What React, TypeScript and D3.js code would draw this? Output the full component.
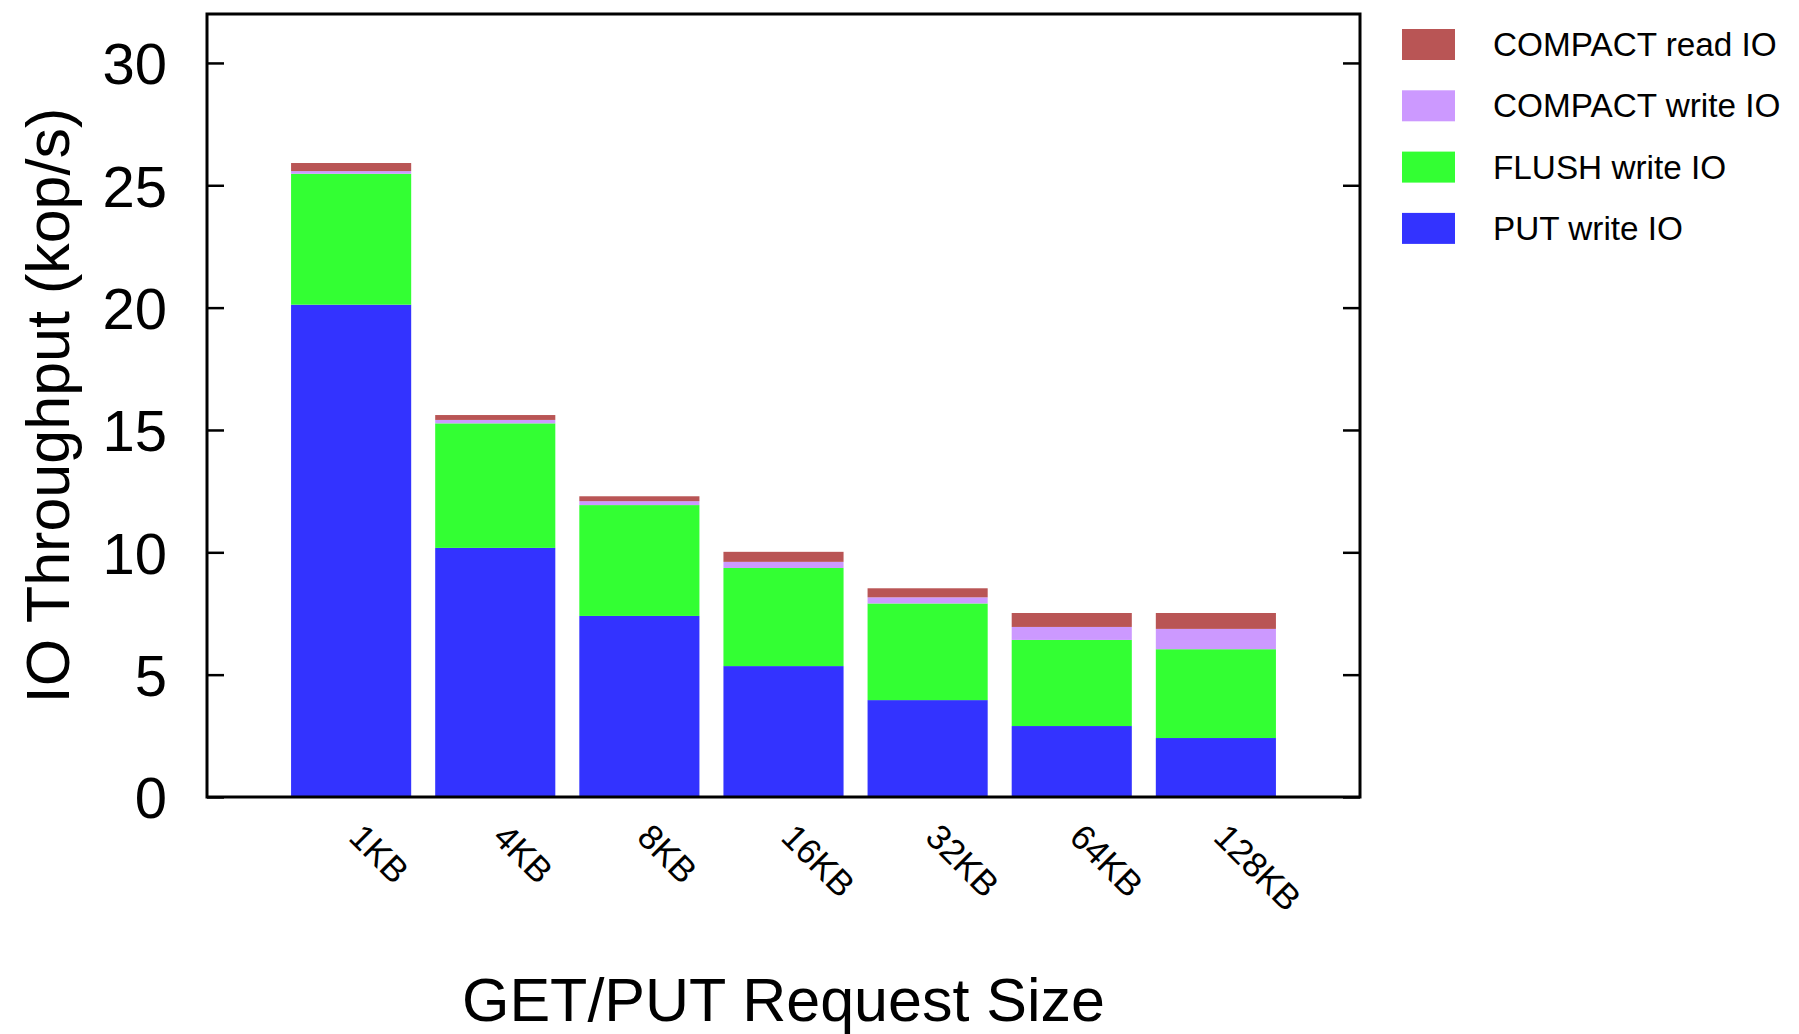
import React, { useRef, useEffect } from 'react';
import * as d3 from 'd3';

const categories = ['1KB', '4KB', '8KB', '16KB', '32KB', '64KB', '128KB'];
const putWrite = [20.12, 10.18, 7.4, 5.35, 3.96, 2.9, 2.41];
const flushWrite = [5.35, 5.09, 4.53, 4.01, 3.95, 3.52, 3.63];
const compactWrite = [0.11, 0.14, 0.16, 0.25, 0.25, 0.53, 0.83];
const compactRead = [0.33, 0.2, 0.2, 0.41, 0.37, 0.57, 0.65];
const yTicks = [0, 5, 10, 15, 20, 25, 30];

// stacking order bottom -> top
const seriesNames = ['PUT write IO', 'FLUSH write IO', 'COMPACT write IO', 'COMPACT read IO'];
const seriesColors = ['#3333ff', '#33ff33', '#cc99ff', '#b95555'];

const W = 1799;
const H = 1034;
const FONT = '"Liberation Sans", Arial, Helvetica, sans-serif';

const App: React.FC = () => {
  const svgRef = useRef<SVGSVGElement | null>(null);

  useEffect(() => {
    if (!svgRef.current) return;
    const svg = d3.select(svgRef.current);
    svg.selectAll('*').remove();

    const left = 207, right = 1360, top = 14, bottom = 797;

    const x = d3.scaleLinear().domain([-1, 7]).range([left, right]);
    const y = d3.scaleLinear().domain([0, 32]).range([bottom, top]);

    const rows = categories.map((c, i) => ({
      cat: c,
      i,
      'PUT write IO': putWrite[i],
      'FLUSH write IO': flushWrite[i],
      'COMPACT write IO': compactWrite[i],
      'COMPACT read IO': compactRead[i],
    }));

    const stacked = d3.stack<any>().keys(seriesNames)(rows);
    const halfW = 0.4167;

    stacked.forEach((layer, k) => {
      svg.append('g')
        .attr('fill', seriesColors[k])
        .selectAll('rect')
        .data(layer)
        .enter()
        .append('rect')
        .attr('x', d => x(d.data.i - halfW))
        .attr('width', x(halfW) - x(-halfW))
        .attr('y', d => y(d[1]))
        .attr('height', d => y(d[0]) - y(d[1]));
    });

    // y axis left, ticks pointing inward
    const yAxis = svg.append('g')
      .attr('transform', `translate(${left},0)`)
      .call(d3.axisLeft(y).tickValues(yTicks).tickSize(-17).tickPadding(40));
    yAxis.select('.domain').remove();
    yAxis.selectAll('line').attr('stroke', '#000').attr('stroke-width', 2.5);
    yAxis.selectAll('text')
      .attr('font-family', FONT)
      .attr('font-size', 58)
      .attr('fill', '#000')
      .attr('dy', '0.36em');

    // mirror ticks on right
    const yAxisR = svg.append('g')
      .attr('transform', `translate(${right},0)`)
      .call(d3.axisRight(y).tickValues(yTicks).tickSize(-17).tickFormat(() => ''));
    yAxisR.select('.domain').remove();
    yAxisR.selectAll('line').attr('stroke', '#000').attr('stroke-width', 2.5);

    // frame
    svg.append('rect')
      .attr('x', left)
      .attr('y', top)
      .attr('width', right - left)
      .attr('height', bottom - top)
      .attr('fill', 'none')
      .attr('stroke', '#000')
      .attr('stroke-width', 3);

    // x tick labels rotated
    svg.append('g')
      .selectAll('text')
      .data(categories)
      .enter()
      .append('text')
      .attr('transform', (d, i) => `translate(${x(i) - 4},${839}) rotate(45)`)
      .attr('font-family', FONT)
      .attr('font-size', 35)
      .attr('fill', '#000')
      .text(d => d);

    // axis titles
    svg.append('text')
      .attr('x', (left + right) / 2)
      .attr('y', 1021)
      .attr('text-anchor', 'middle')
      .attr('font-family', FONT)
      .attr('font-size', 61)
      .text('GET/PUT Request Size');

    svg.append('text')
      .attr('transform', `translate(69,${(top + bottom) / 2}) rotate(-90)`)
      .attr('text-anchor', 'middle')
      .attr('font-family', FONT)
      .attr('font-size', 61)
      .text('IO Throughput (kop/s)');

    // legend, top entry = top of stack
    const legendOrder = [3, 2, 1, 0];
    const lg = svg.append('g');
    legendOrder.forEach((k, r) => {
      const cy = 44.5 + r * 61.3;
      lg.append('rect')
        .attr('x', 1402)
        .attr('y', cy - 15.5)
        .attr('width', 53)
        .attr('height', 31)
        .attr('fill', seriesColors[k]);
      lg.append('text')
        .attr('x', 1493)
        .attr('y', cy)
        .attr('dy', '0.35em')
        .attr('font-family', FONT)
        .attr('font-size', 33.3)
        .text(seriesNames[k]);
    });
  }, []);

  return (
    <div style={{ position: 'absolute', left: 0, top: 0 }}>
      <svg ref={svgRef} width={W} height={H} style={{ display: 'block', background: '#fff' }}></svg>
    </div>
  );
};

export default App;
